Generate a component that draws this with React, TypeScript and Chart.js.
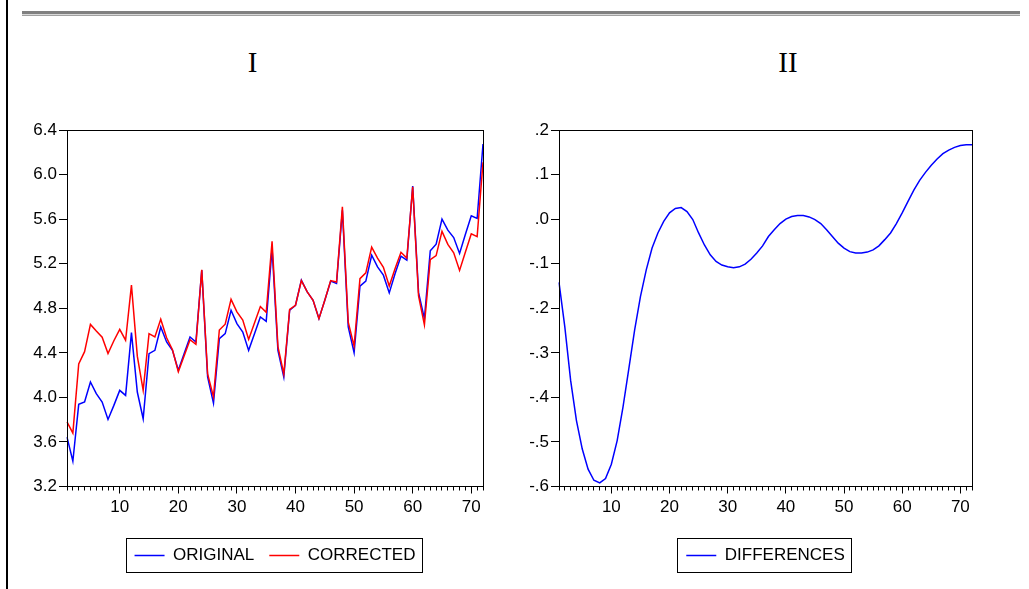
import React, { useEffect, useRef } from 'react';
import { Chart, registerables } from 'chart.js';

Chart.register(...registerables);

const periods = [
  1, 2, 3, 4, 5, 6, 7, 8, 9, 10, 11, 12, 13, 14, 15, 16, 17, 18, 19, 20, 21, 22, 23, 24,
  25, 26, 27, 28, 29, 30, 31, 32, 33, 34, 35, 36, 37, 38, 39, 40, 41, 42, 43, 44, 45, 46, 47, 48,
  49, 50, 51, 52, 53, 54, 55, 56, 57, 58, 59, 60, 61, 62, 63, 64, 65, 66, 67, 68, 69, 70, 71, 72,
];

const original = [
  3.643, 3.427, 3.937, 3.958, 4.138, 4.033, 3.958, 3.802, 3.928, 4.063, 4.018, 4.581,
  4.048, 3.808, 4.393, 4.422, 4.632, 4.497, 4.422, 4.243, 4.393, 4.542, 4.497, 5.142,
  4.183, 3.949, 4.527, 4.572, 4.782, 4.662, 4.587, 4.422, 4.572, 4.722, 4.683, 5.336,
  4.422, 4.183, 4.782, 4.827, 5.052, 4.947, 4.872, 4.707, 4.872, 5.043, 5.022, 5.68,
  4.632, 4.401, 4.998, 5.043, 5.276, 5.171, 5.097, 4.938, 5.112, 5.267, 5.231, 5.897,
  4.94, 4.707, 5.315, 5.375, 5.6, 5.501, 5.435, 5.292, 5.465, 5.63, 5.606, 6.274,
];

const corrected = [
  3.78, 3.68, 4.3, 4.41, 4.655, 4.595, 4.54, 4.393, 4.508, 4.61, 4.513, 5.008,
  4.37, 4.063, 4.572, 4.542, 4.702, 4.535, 4.428, 4.229, 4.373, 4.517, 4.477, 5.145,
  4.21, 4.005, 4.605, 4.657, 4.88, 4.768, 4.694, 4.52, 4.667, 4.815, 4.763, 5.4,
  4.456, 4.21, 4.79, 4.827, 5.048, 4.947, 4.872, 4.707, 4.872, 5.048, 5.035, 5.71,
  4.675, 4.46, 5.066, 5.118, 5.348, 5.25, 5.168, 5.0, 5.157, 5.302, 5.25, 5.89,
  4.91, 4.652, 5.237, 5.273, 5.49, 5.373, 5.297, 5.14, 5.305, 5.468, 5.443, 6.11,
];

const differences = [
  -0.142, -0.242, -0.362, -0.452, -0.516, -0.561, -0.586, -0.592, -0.582, -0.55, -0.497, -0.422,
  -0.336, -0.249, -0.174, -0.114, -0.065, -0.031, -0.005, 0.014, 0.024, 0.026, 0.017, -0.001,
  -0.031, -0.058, -0.08, -0.095, -0.103, -0.107, -0.109, -0.107, -0.101, -0.09, -0.076, -0.06,
  -0.039, -0.024, -0.01, 0.0, 0.006, 0.008, 0.008, 0.005, -0.001, -0.01, -0.024, -0.039,
  -0.054, -0.065, -0.073, -0.076, -0.076, -0.074, -0.069, -0.06, -0.046, -0.031, -0.01, 0.014,
  0.04, 0.065, 0.087, 0.105, 0.121, 0.135, 0.147, 0.155, 0.161, 0.165, 0.167, 0.167,
];

const leftYTicks = [3.2, 3.6, 4.0, 4.4, 4.8, 5.2, 5.6, 6.0, 6.4];
const leftYTickLabels = ['3.2', '3.6', '4.0', '4.4', '4.8', '5.2', '5.6', '6.0', '6.4'];
const rightYTicks = [-0.6, -0.5, -0.4, -0.3, -0.2, -0.1, 0.0, 0.1, 0.2];
const rightYTickLabels = ['-.6', '-.5', '-.4', '-.3', '-.2', '-.1', '.0', '.1', '.2'];
const xMajorTicks = [10, 20, 30, 40, 50, 60, 70];
const panelTitles = ['I', 'II'];
const seriesNames = ['ORIGINAL', 'CORRECTED', 'DIFFERENCES'];

const SANS = "'Liberation Sans', Arial, Helvetica, sans-serif";
const SERIF = "'Liberation Serif', 'Times New Roman', serif";

const align = (p: number) => Math.round(p - 0.5) + 0.5;

const framePlugin = {
  id: 'evFrame',
  afterDraw(chart: any) {
    const { ctx, chartArea: a } = chart;
    ctx.save();
    ctx.strokeStyle = '#000';
    ctx.lineWidth = 1;
    const l = align(a.left);
    const r = align(a.right);
    const t = align(a.top);
    const b = align(a.bottom);
    ctx.strokeRect(l, t, r - l, b - t);
    // longer major ticks on x axis
    const xs = chart.scales.x;
    ctx.beginPath();
    xMajorTicks.forEach((v) => {
      const idx = periods.indexOf(v);
      const px = align(xs.getPixelForValue(idx));
      ctx.moveTo(px, a.bottom);
      ctx.lineTo(px, a.bottom + 7);
    });
    ctx.stroke();
    // legend frame
    const lg = chart.legend;
    if (lg && lg.legendHitBoxes && lg.legendHitBoxes.length) {
      const hb = lg.legendHitBoxes;
      let minL = Infinity;
      let maxR = -Infinity;
      hb.forEach((h: any) => {
        minL = Math.min(minL, h.left);
        maxR = Math.max(maxR, h.left + h.width);
      });
      const top = hb[0].top;
      const x0 = align(minL - 8.5);
      const x1 = align(maxR + 7);
      const y0 = align(top - 8.5);
      const y1 = align(top + hb[0].height + 8.5);
      ctx.strokeRect(x0, y0, x1 - x0, y1 - y0);
    }
    ctx.restore();
  },
};

function buildConfig(
  datasets: any[],
  yMin: number,
  yMax: number,
  yTicks: number[],
  yLabels: string[],
  padding: { left: number; right: number; top: number; bottom: number }
): any {
  const font = { family: SANS, size: 17 };
  return {
    type: 'line',
    data: { labels: periods, datasets },
    options: {
      responsive: false,
      animation: false,
      events: [],
      layout: { padding },
      plugins: {
        title: { display: false },
        tooltip: { enabled: false },
        legend: {
          display: true,
          position: 'bottom',
          fullSize: false,
          align: 'center',
          labels: {
            usePointStyle: true,
            pointStyle: 'line',
            pointStyleWidth: 30,
            padding: 15,
            color: '#000',
            font,
            sort: (a: any, b: any) => a.datasetIndex - b.datasetIndex,
          },
        },
      },
      scales: {
        x: {
          type: 'category',
          offset: false,
          grid: {
            display: true,
            drawOnChartArea: false,
            drawTicks: true,
            tickLength: 4,
            color: '#000',
            tickColor: '#000',
          },
          border: { display: true, color: '#000', width: 1 },
          ticks: {
            autoSkip: false,
            maxRotation: 0,
            minRotation: 0,
            padding: 7,
            color: '#000',
            font,
            callback: (_v: any, i: number) =>
              xMajorTicks.includes(periods[i]) ? String(periods[i]) : '',
          },
          afterFit: (s: any) => {
            s.height = 45.5;
          },
        },
        y: {
          type: 'linear',
          min: yMin,
          max: yMax,
          afterBuildTicks: (s: any) => {
            s.ticks = yTicks.map((v) => ({ value: v }));
          },
          grid: {
            display: true,
            drawOnChartArea: false,
            drawTicks: true,
            tickLength: 8,
            color: '#000',
            tickColor: '#000',
          },
          border: { display: true, color: '#000', width: 1 },
          ticks: {
            padding: 2,
            color: '#000',
            font,
            callback: (_v: any, i: number) => yLabels[i],
          },
          afterFit: (s: any) => {
            s.width = 50;
          },
        },
      },
    },
    plugins: [framePlugin],
  };
}

export default function App() {
  const leftRef = useRef<HTMLCanvasElement | null>(null);
  const rightRef = useRef<HTMLCanvasElement | null>(null);

  useEffect(() => {
    if (!leftRef.current || !rightRef.current) return;
    const leftChart = new Chart(
      leftRef.current,
      buildConfig(
        [
          {
            label: seriesNames[0],
            data: original,
            borderColor: '#0000ff',
            backgroundColor: '#0000ff',
            borderWidth: 1.5,
            pointRadius: 0,
            tension: 0,
            fill: false,
            order: 1,
          },
          {
            label: seriesNames[1],
            data: corrected,
            borderColor: '#ff0000',
            backgroundColor: '#ff0000',
            borderWidth: 1.5,
            pointRadius: 0,
            tension: 0,
            fill: false,
            order: 0,
          },
        ],
        leftYTicks[0],
        leftYTicks[leftYTicks.length - 1],
        leftYTicks,
        leftYTickLabels,
        { left: 17, right: 546, top: 130, bottom: 15 }
      )
    );
    const rightChart = new Chart(
      rightRef.current,
      buildConfig(
        [
          {
            label: seriesNames[2],
            data: differences,
            borderColor: '#0000ff',
            backgroundColor: '#0000ff',
            borderWidth: 1.5,
            pointRadius: 0,
            tension: 0,
            fill: false,
          },
        ],
        rightYTicks[0],
        rightYTicks[rightYTicks.length - 1],
        rightYTicks,
        rightYTickLabels,
        { left: 509, right: 57, top: 130, bottom: 15 }
      )
    );
    return () => {
      leftChart.destroy();
      rightChart.destroy();
    };
  }, []);

  const titleStyle = (cx: number): React.CSSProperties => ({
    position: 'absolute',
    left: cx - 50,
    top: 48,
    width: 100,
    textAlign: 'center',
    fontFamily: SERIF,
    fontSize: 29,
    lineHeight: '29px',
    color: '#000',
  });

  return (
    <div
      style={{
        position: 'fixed',
        left: 0,
        top: 0,
        width: 1029,
        height: 589,
        background: '#fff',
        overflow: 'hidden',
      }}
    >
      <div style={{ position: 'absolute', left: 6, top: 0, width: 2, height: 589, background: '#000' }} />
      <div style={{ position: 'absolute', left: 22, top: 11, width: 998, height: 3, background: '#808080' }} />
      <div style={{ position: 'absolute', left: 22, top: 14, width: 998, height: 1, background: '#d8d8d8' }} />
      <div style={{ position: 'absolute', left: 22, top: 15, width: 998, height: 1, background: '#a0a0a0' }} />
      <div style={titleStyle(252.5)}>{panelTitles[0]}</div>
      <div style={titleStyle(788)}>{panelTitles[1]}</div>
      <canvas
        ref={leftRef}
        width={1029}
        height={589}
        style={{ position: 'absolute', left: 0, top: 0, width: 1029, height: 589 }}
      />
      <canvas
        ref={rightRef}
        width={1029}
        height={589}
        style={{ position: 'absolute', left: 0, top: 0, width: 1029, height: 589 }}
      />
    </div>
  );
}
